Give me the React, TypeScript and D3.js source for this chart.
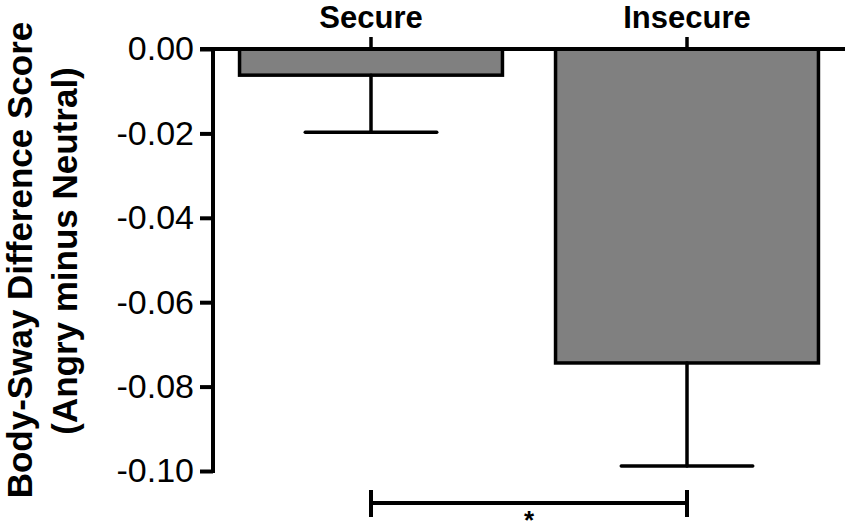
import { useEffect, useRef } from 'react';
import * as d3 from 'd3';

const GROUPS = ['Secure', 'Insecure'];
const MEANS = [-0.0062, -0.0744];
const ERR_LOW = [-0.0197, -0.0988];
const Y_TICKS = [0, -0.02, -0.04, -0.06, -0.08, -0.1];
const Y_TITLE = ['Body-Sway Difference Score', '(Angry minus Neutral)'];
const SIG_PAIR = ['Secure', 'Insecure'];
const SIG_LABEL = '*';

export default function App() {
  const svgRef = useRef<SVGSVGElement | null>(null);

  useEffect(() => {
    if (!svgRef.current) return;
    const svg = d3.select(svgRef.current);
    svg.selectAll('*').remove();
    const font = 'Liberation Sans, Arial, Helvetica, sans-serif';

    const y = d3.scaleLinear().domain([0, -0.1]).range([49, 471]);
    const x = d3.scaleBand<string>().domain(GROUPS).range([213, 845])
      .paddingInner(0.168).paddingOuter(0.084);
    const bw = x.bandwidth();
    const cx = (g: string) => (x(g) as number) + bw / 2;

    // bars
    svg.selectAll('rect.bar').data(GROUPS).join('rect')
      .attr('class', 'bar')
      .attr('x', d => x(d) as number)
      .attr('y', y(0))
      .attr('width', bw)
      .attr('height', (d, i) => y(MEANS[i]) - y(0))
      .attr('fill', '#808080')
      .attr('stroke', '#000')
      .attr('stroke-width', 3.5);

    // error bars
    const eg = svg.append('g').attr('stroke', '#000').attr('stroke-width', 3.5).attr('stroke-linecap', 'round');
    GROUPS.forEach((g, i) => {
      eg.append('line').attr('x1', cx(g)).attr('x2', cx(g))
        .attr('y1', y(MEANS[i])).attr('y2', y(ERR_LOW[i]));
      eg.append('line').attr('x1', cx(g) - bw / 4).attr('x2', cx(g) + bw / 4)
        .attr('y1', y(ERR_LOW[i])).attr('y2', y(ERR_LOW[i]));
    });

    // left axis
    const ax = svg.append('g').attr('transform', 'translate(213,0)')
      .call(d3.axisLeft(y).tickValues(Y_TICKS).tickSize(13).tickPadding(6)
        .tickFormat(d => d3.format('.2f')(d as number).replace('−', '-')));
    ax.select('.domain').attr('stroke-width', 4).attr('d', `M0,${y(0)}V${y(-0.1) + 2}`);
    ax.selectAll('.tick line').attr('stroke-width', 4);
    ax.selectAll('.tick text').attr('font-family', font).attr('font-size', 34).attr('fill', '#000');

    // top axis with group labels
    const tx = svg.append('g').attr('transform', `translate(0,${y(0)})`)
      .call(d3.axisTop(x).tickSize(12).tickPadding(9));
    tx.select('.domain').attr('stroke-width', 4).attr('d', `M200,0H845`);
    tx.selectAll('.tick line').attr('stroke-width', 3.5);
    tx.selectAll('.tick text').attr('font-family', font).attr('font-size', 31)
      .attr('font-weight', 'bold').attr('fill', '#000');

    // y title
    const titleX = [32, 77];
    const titleY = [260, 251];
    Y_TITLE.forEach((t, i) => {
      svg.append('text')
        .attr('transform', `translate(${titleX[i]},${titleY[i]}) rotate(-90)`)
        .attr('text-anchor', 'middle')
        .attr('font-family', font).attr('font-size', 35).attr('font-weight', 'bold')
        .text(t);
    });

    // significance bracket
    const by = 503;
    const x1 = cx(SIG_PAIR[0]);
    const x2 = cx(SIG_PAIR[1]);
    const sg = svg.append('g').attr('stroke', '#000').attr('stroke-width', 4);
    sg.append('line').attr('x1', x1).attr('x2', x2).attr('y1', by).attr('y2', by);
    sg.append('line').attr('x1', x1).attr('x2', x1).attr('y1', by - 13).attr('y2', by + 14);
    sg.append('line').attr('x1', x2).attr('x2', x2).attr('y1', by - 13).attr('y2', by + 14);
    svg.append('text').attr('x', (x1 + x2) / 2).attr('y', 529)
      .attr('text-anchor', 'middle').attr('font-family', font)
      .attr('font-size', 26).attr('font-weight', 'bold').text(SIG_LABEL);
  }, []);

  return (
    <svg ref={svgRef} width={850} height={525}
      style={{ position: 'absolute', left: 0, top: 0, background: '#fff' }} />
  );
}
